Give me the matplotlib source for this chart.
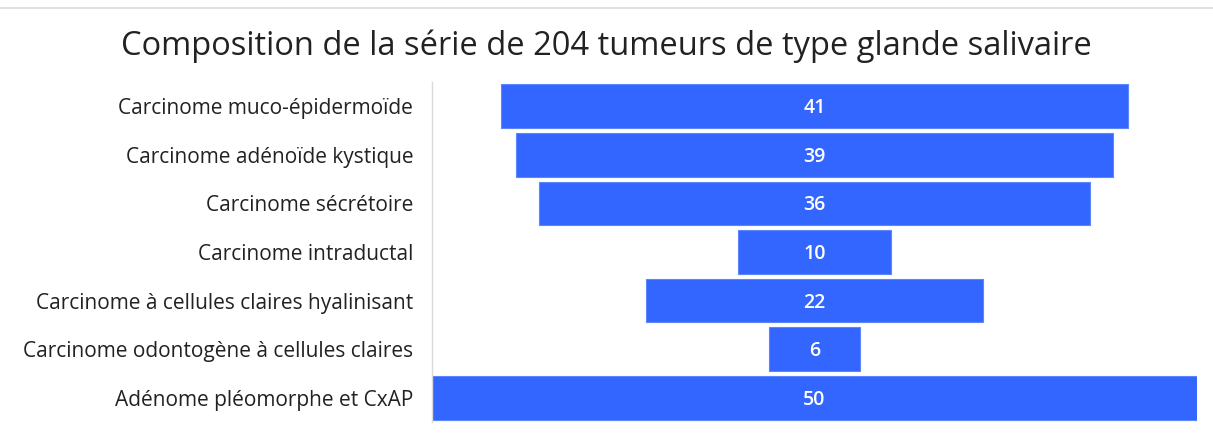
import matplotlib
matplotlib.use("Agg")
import matplotlib.pyplot as plt
from matplotlib.lines import Line2D

categories = [
    "Carcinome muco-épidermoïde",
    "Carcinome adénoïde kystique",
    "Carcinome sécrétoire",
    "Carcinome intraductal",
    "Carcinome à cellules claires hyalinisant",
    "Carcinome odontogène à cellules claires",
    "Adénome pléomorphe et CxAP",
]
counts = [41, 39, 36, 10, 22, 6, 50]

plt.rcParams["font.family"] = ["Open Sans", "DejaVu Sans"]

fig = plt.figure(figsize=(12.13, 4.37), dpi=100)
ax = fig.add_axes([432 / 1213, 1 - 422 / 437, 765 / 1213, 340 / 437])

ypos = list(range(len(categories)))
lefts = [-c / 2 for c in counts]
ax.barh(ypos, counts, left=lefts, height=0.9, color="#3366ff",
        edgecolor="#5c86ff", linewidth=0.8)

for y, c in zip(ypos, counts):
    ax.text(0, y + 0.04, str(c), ha="center", va="center", color="white",
            fontsize=14, fontweight="semibold")

ax.set_xlim(-25, 25)
ax.set_ylim(len(categories) - 0.5, -0.5)
ax.set_xticks([])
ax.set_yticks(ypos)
ax.set_yticklabels(categories, fontsize=15, color="#222222")
ax.tick_params(axis="y", length=0, pad=13.5)
for side in ["top", "right", "bottom"]:
    ax.spines[side].set_visible(False)
ax.spines["left"].set_color("#d9d9d9")
ax.spines["left"].set_linewidth(1)

fig.text(0.5, 1 - 46 / 437, "Composition de la série de 204 tumeurs de type glande salivaire",
         ha="center", va="center", fontsize=23.5, color="#222222")

fig.add_artist(Line2D([0, 1], [1 - 8 / 437, 1 - 8 / 437], color="#dde3e3",
                      linewidth=1.5, transform=fig.transFigure))

fig.savefig("out.png", dpi=100, facecolor="white")
